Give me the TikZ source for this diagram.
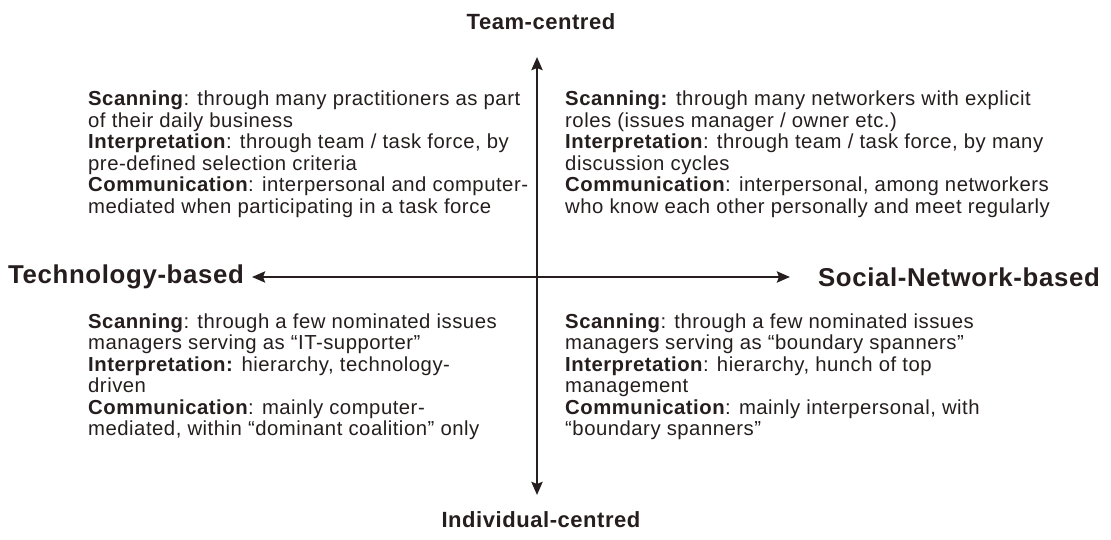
\documentclass[tikz,border=0pt]{standalone}
\usepackage{fontspec}
\setmainfont{Liberation Sans}[LetterSpace=2.5]
\usetikzlibrary{arrows.meta}
\definecolor{ink}{RGB}{38,30,30}
\tikzset{
  quad/.style={anchor=north west, inner sep=0pt, align=left, text=ink,
    font=\fontsize{20.3}{21.5}\selectfont},
  axislabel/.style={inner sep=0pt, text=ink, font=\fontsize{22}{26}\selectfont\bfseries},
  sidelabel/.style={axislabel, font=\fontsize{25.8}{28}\selectfont\bfseries},
  axis/.style={draw=ink, line width=2.6pt,
    {Stealth[length=13pt,width=11pt,inset=2pt]}-{Stealth[length=13pt,width=11pt,inset=2pt]}}
}
\begin{document}
\begin{tikzpicture}[x=1pt,y=1pt]
\useasboundingbox (0,0) rectangle (1111,539);
\fill[white] (0,0) rectangle (1111,539);
% axis end points
\coordinate (top) at (537,482);
\coordinate (bottom) at (537,44);
\coordinate (left) at (252,262);
\coordinate (right) at (790,262);
\draw[axis] (bottom) -- (top);
\draw[axis] (left) -- (right);
% axis labels
\node[axislabel] (team) at (541,517) {Team-centred};
\node[axislabel] (indiv) at (541,19) {Individual-centred};
\node[sidelabel, anchor=west] (tech) at (8,262) {Technology-based};
\node[sidelabel, anchor=east] (social) at (1100,262) {Social-Network-based};
% quadrant texts
\node[quad] (tl) at (88,448) {%
\textbf{Scanning}: through many practitioners as part\\
of their daily business\\
\textbf{Interpretation}: through team / task force, by\\
pre-defined selection criteria\\
\textbf{Communication}: interpersonal and computer-\\
mediated when participating in a task force};
\node[quad] (tr) at (565,448) {%
\textbf{Scanning:} through many networkers with explicit\\
roles (issues manager / owner etc.)\\
\textbf{Interpretation}: through team / task force, by many\\
discussion cycles\\
\textbf{Communication}: interpersonal, among networkers\\
who know each other personally and meet regularly};
\node[quad] (bl) at (88,225.5) {%
\textbf{Scanning}: through a few nominated issues\\
managers serving as “IT-supporter”\\
\textbf{Interpretation:} hierarchy, technology-\\
driven\\
\textbf{Communication}: mainly computer-\\
mediated, within “dominant coalition” only};
\node[quad] (br) at (565,225.5) {%
\textbf{Scanning}: through a few nominated issues\\
managers serving as “boundary spanners”\\
\textbf{Interpretation}: hierarchy, hunch of top\\
management\\
\textbf{Communication}: mainly interpersonal, with\\
“boundary spanners”};
\end{tikzpicture}
\end{document}
